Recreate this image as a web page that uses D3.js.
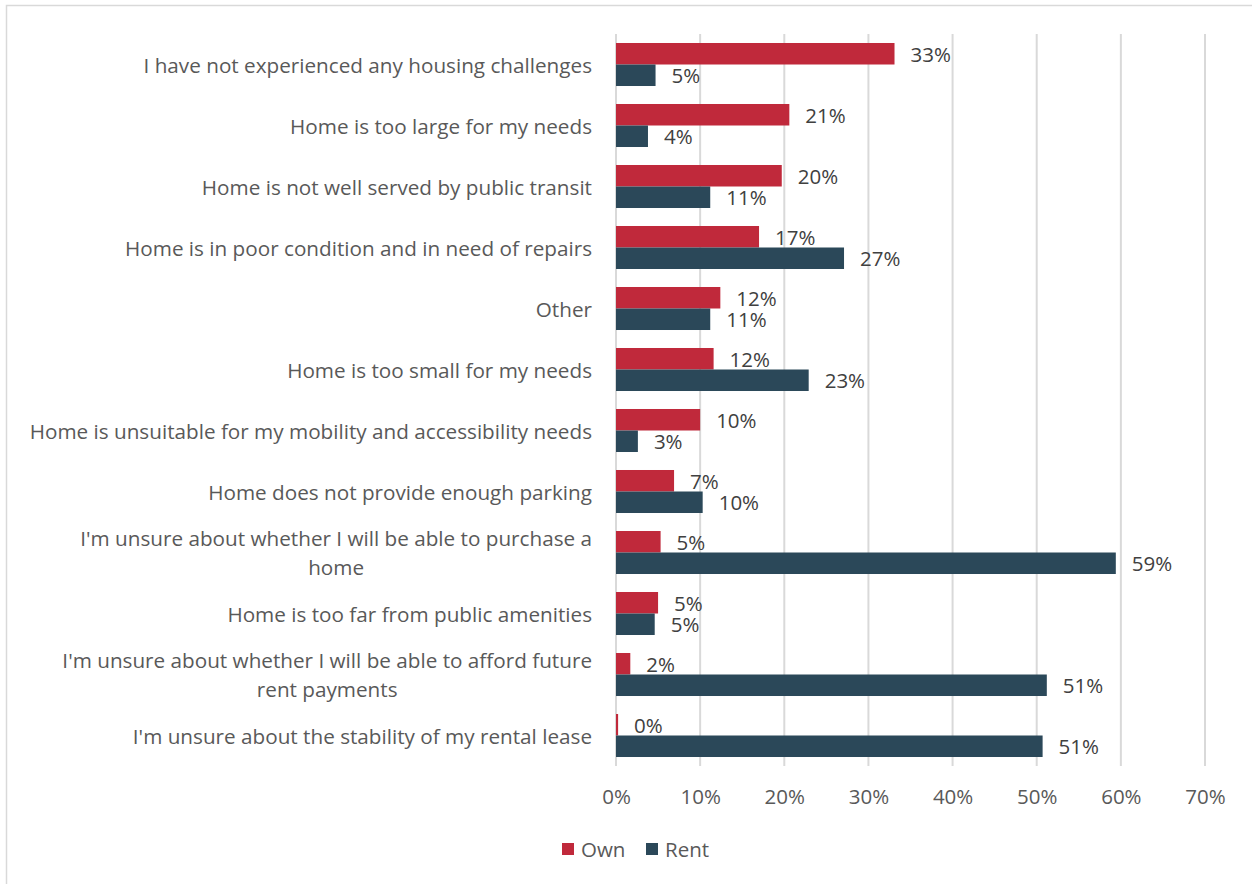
<!DOCTYPE html>
<html>
<head>
<meta charset="utf-8">
<script src="https://cdn.jsdelivr.net/npm/d3@7"></script>
<style>
  html, body { margin: 0; padding: 0; background: #fff; }
  svg { display: block; }
  text { font-family: "Open Sans", "Noto Sans", sans-serif; }
</style>
</head>
<body>
<svg id="chart" width="1252" height="884"></svg>
<script>
// Housing challenges by tenure (share of respondents)
const categories = [
  ["I have not experienced any housing challenges"],
  ["Home is too large for my needs"],
  ["Home is not well served by public transit"],
  ["Home is in poor condition and in need of repairs"],
  ["Other"],
  ["Home is too small for my needs"],
  ["Home is unsuitable for my mobility and accessibility needs"],
  ["Home does not provide enough parking"],
  ["I'm unsure about whether I will be able to purchase a", "home"],
  ["Home is too far from public amenities"],
  ["I'm unsure about whether I will be able to afford future", "rent payments"],
  ["I'm unsure about the stability of my rental lease"]
];
const seriesNames = ["Own", "Rent"];
const ownValues  = [33.1, 20.6, 19.7, 17.0, 12.4, 11.6, 10.0, 6.9, 5.3, 5.0, 1.7, 0.25];
const rentValues = [4.7, 3.8, 11.2, 27.1, 11.2, 22.9, 2.6, 10.3, 59.4, 4.6, 51.2, 50.7];
const tickValues = [0, 10, 20, 30, 40, 50, 60, 70];
const colors = { Own: "#c0293b", Rent: "#2b4859" };

const labelSize = 20.7;
const valueSize = 20.5;
const tickSize = 20.5;

const svg = d3.select("#chart");

// outer frame of the chart area
svg.append("rect")
  .attr("x", 6.5).attr("y", 5.5)
  .attr("width", 1260).attr("height", 890)
  .attr("fill", "#fff").attr("stroke", "#d9d9d9").attr("stroke-width", 1.5);

const plot = { left: 616, right: 1205, top: 34, bottom: 766 };

const x = d3.scaleLinear().domain([0, 70]).range([plot.left, plot.right]);
const keys = categories.map((c, i) => i);
const y = d3.scaleBand().domain(keys).range([plot.top, plot.bottom])
  .paddingInner(0.295).paddingOuter(0.1475);
const ySub = d3.scaleBand().domain(seriesNames).range([0, y.bandwidth()]);

// vertical gridlines
svg.append("g")
  .selectAll("line")
  .data(tickValues)
  .join("line")
  .attr("x1", d => x(d)).attr("x2", d => x(d))
  .attr("y1", plot.top).attr("y2", plot.bottom)
  .attr("stroke", "#d9d9d9").attr("stroke-width", 2);

// x axis tick labels
const xAxis = d3.axisBottom(x).tickValues(tickValues).tickSize(0).tickPadding(0)
  .tickFormat(d => d + "%");
const ax = svg.append("g").attr("transform", `translate(0, ${plot.bottom + 23})`).call(xAxis);
ax.select(".domain").remove();
ax.selectAll("text")
  .attr("font-size", tickSize).attr("fill", "#595959")
  .attr("font-family", "'Open Sans', 'Noto Sans', sans-serif");

// category labels (multi-line labels centred on each other, block right-aligned)
const catG = svg.append("g");
categories.forEach((lines, i) => {
  const cy = y(i) + y.bandwidth() / 2;
  const lh = 29;
  const t = catG.append("text")
    .attr("font-size", labelSize).attr("fill", "#595959")
    .attr("dominant-baseline", "central");
  if (lines.length === 1) {
    t.attr("x", 592).attr("y", cy).attr("text-anchor", "end").text(lines[0]);
  } else {
    t.attr("x", 592).attr("y", cy - lh / 2).attr("text-anchor", "end").text(lines[0]);
    const w = t.node().getComputedTextLength();
    lines.slice(1).forEach((ln, k) => {
      catG.append("text")
        .attr("font-size", labelSize).attr("fill", "#595959")
        .attr("dominant-baseline", "central")
        .attr("text-anchor", "middle")
        .attr("x", 592 - w / 2).attr("y", cy - lh / 2 + lh * (k + 1))
        .text(ln);
    });
  }
});

// bars
const rows = categories.map((c, i) => ({ i, Own: ownValues[i], Rent: rentValues[i] }));
const groups = svg.append("g").selectAll("g")
  .data(rows).join("g")
  .attr("transform", d => `translate(0, ${y(d.i)})`);

groups.selectAll("rect")
  .data(d => seriesNames.map(s => ({ s, v: d[s] })))
  .join("rect")
  .attr("x", x(0))
  .attr("y", d => ySub(d.s))
  .attr("width", d => x(d.v) - x(0))
  .attr("height", ySub.bandwidth())
  .attr("fill", d => colors[d.s]);

// value labels
groups.selectAll("text")
  .data(d => seriesNames.map(s => ({ s, v: d[s] })))
  .join("text")
  .attr("x", d => x(d.v) + 16)
  .attr("y", d => ySub(d.s) + ySub.bandwidth() / 2)
  .attr("dominant-baseline", "central")
  .attr("font-size", valueSize).attr("fill", "#404040")
  .text(d => Math.round(d.v) + "%");

// legend
const legend = svg.append("g").attr("transform", "translate(562, 849)");
const legendItems = [{ s: "Own", x: 0 }, { s: "Rent", x: 84 }];
legendItems.forEach(it => {
  legend.append("rect").attr("x", it.x).attr("y", -6).attr("width", 12).attr("height", 12)
    .attr("fill", colors[it.s]);
  legend.append("text").attr("x", it.x + 19).attr("y", 0)
    .attr("dominant-baseline", "central")
    .attr("font-size", tickSize).attr("fill", "#595959").text(it.s);
});
</script>
</body>
</html>
